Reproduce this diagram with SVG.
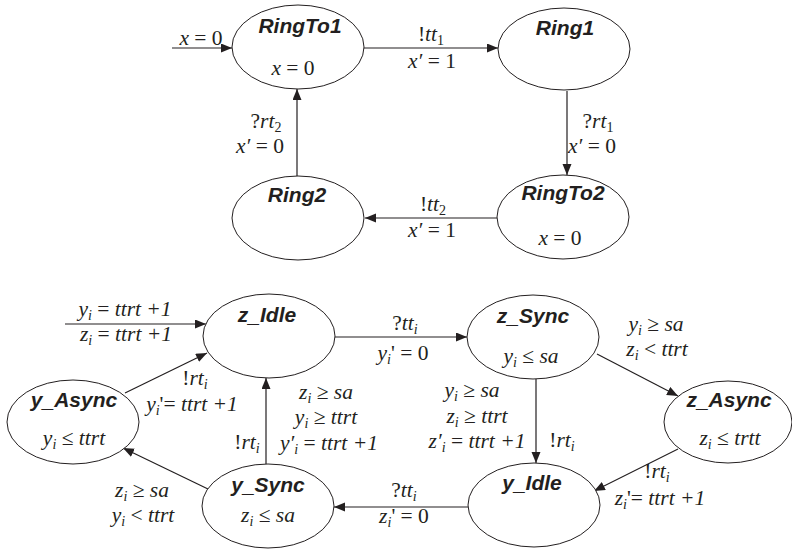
<svg xmlns="http://www.w3.org/2000/svg" width="792" height="549" viewBox="0 0 792 549">
<style>
.st{fill:#fff;stroke:#231f20;stroke-width:1}
.c{fill:none;stroke:#231f20;stroke-width:1.2}
.ar{marker-end:url(#ah)}
.m{font-family:"Liberation Serif","Times New Roman",serif;font-size:21.5px;font-style:italic;text-anchor:middle;fill:#231f20}
.u{font-style:normal}
.s{font-size:14px}
.n{font-family:"Liberation Sans",Arial,sans-serif;font-weight:bold;font-style:italic;font-size:21px;text-anchor:middle;fill:#231f20}
</style>
<defs>
<marker id="ah" markerUnits="userSpaceOnUse" markerWidth="12" markerHeight="10" refX="11" refY="4.5" orient="auto">
<path d="M0,0 L11,4.5 L0,9 z" fill="#231f20"/>
</marker>
</defs>
<rect width="792" height="549" fill="#fff"/>

<g id="connectors">
<path class="c ar" d="M172,48 L232,48"/>
<path class="c ar" d="M364,48 L498,48"/>
<path class="c ar" d="M567,91 L567,175"/>
<path class="c ar" d="M497,218 L365,218"/>
<path class="c ar" d="M297,176 L297,89"/>

<path class="c ar" d="M65,324 L206,324"/>
<path class="c ar" d="M335,337 L467,337"/>
<path class="c ar" d="M597,354 L678,396"/>
<path class="c ar" d="M536,379 L536,463"/>
<path class="c ar" d="M678,449 L594,491"/>
<path class="c ar" d="M468,507 L334,507"/>
<path class="c ar" d="M266,464 L266,378"/>
<path class="c ar" d="M208,489 L123,448"/>
<path class="c ar" d="M125,393 L207,353"/>
</g>

<g id="labels">
<text class="m" x="201" y="45">x <tspan class="u">= 0</tspan></text>
<text class="m" x="431" y="41"><tspan class="u">!</tspan>tt<tspan class="s u" dy="4">1</tspan></text>
<text class="m" x="432" y="68">x′ <tspan class="u">= 1</tspan></text>
<text class="m" x="598" y="128"><tspan class="u">?</tspan>rt<tspan class="s u" dy="4">1</tspan></text>
<text class="m" x="592" y="153">x′ <tspan class="u">= 0</tspan></text>
<text class="m" x="433" y="211"><tspan class="u">!</tspan>tt<tspan class="s u" dy="4">2</tspan></text>
<text class="m" x="432" y="237">x′ <tspan class="u">= 1</tspan></text>
<text class="m" x="266" y="128"><tspan class="u">?</tspan>rt<tspan class="s u" dy="4">2</tspan></text>
<text class="m" x="260" y="153">x′ <tspan class="u">= 0</tspan></text>

<text class="m" x="125" y="316">y<tspan class="s" dy="4">i</tspan><tspan dy="-4"> <tspan class="u">=</tspan> ttrt +1</tspan></text>
<text class="m" x="126" y="341">z<tspan class="s" dy="4">i</tspan><tspan dy="-4"> <tspan class="u">=</tspan> ttrt +1</tspan></text>
<text class="m" x="405" y="330"><tspan class="u">?</tspan>tt<tspan class="s" dy="4">i</tspan></text>
<text class="m" x="403" y="360">y<tspan class="s" dy="4">i</tspan><tspan dy="-4" class="u">' = 0</tspan></text>
<text class="m" x="656" y="331">y<tspan class="s" dy="4">i</tspan><tspan dy="-4" class="u"> ≥ </tspan>sa</text>
<text class="m" x="657" y="356">z<tspan class="s" dy="4">i</tspan><tspan dy="-4" class="u"> &lt; </tspan>ttrt</text>
<text class="m" x="472" y="397">y<tspan class="s" dy="4">i</tspan><tspan dy="-4" class="u"> ≥ </tspan>sa</text>
<text class="m" x="477" y="423">z<tspan class="s" dy="4">i</tspan><tspan dy="-4" class="u"> ≥ </tspan>ttrt</text>
<text class="m" x="477" y="448">z′<tspan class="s" dy="4">i</tspan><tspan dy="-4"> <tspan class="u">=</tspan> ttrt +1</tspan></text>
<text class="m" x="562" y="447"><tspan class="u">!</tspan>rt<tspan class="s" dy="4">i</tspan></text>
<text class="m" x="657" y="478"><tspan class="u">!</tspan>rt<tspan class="s" dy="4">i</tspan></text>
<text class="m" x="660" y="505">z<tspan class="s" dy="4">i</tspan><tspan dy="-4"><tspan class="u">'=</tspan> ttrt +1</tspan></text>
<text class="m" x="404" y="497"><tspan class="u">?</tspan>tt<tspan class="s" dy="4">i</tspan></text>
<text class="m" x="404" y="523">z<tspan class="s" dy="4">i</tspan><tspan dy="-4" class="u">' = 0</tspan></text>
<text class="m" x="247" y="449"><tspan class="u">!</tspan>rt<tspan class="s" dy="4">i</tspan></text>
<text class="m" x="326" y="399">z<tspan class="s" dy="4">i</tspan><tspan dy="-4" class="u"> ≥ </tspan>sa</text>
<text class="m" x="326" y="424">y<tspan class="s" dy="4">i</tspan><tspan dy="-4" class="u"> ≥ </tspan>ttrt</text>
<text class="m" x="329" y="450">y′<tspan class="s" dy="4">i</tspan><tspan dy="-4"> <tspan class="u">=</tspan> ttrt +1</tspan></text>
<text class="m" x="195" y="385"><tspan class="u">!</tspan>rt<tspan class="s" dy="4">i</tspan></text>
<text class="m" x="192" y="411">y<tspan class="s" dy="4">i</tspan><tspan dy="-4"><tspan class="u">'=</tspan> ttrt +1</tspan></text>
<text class="m" x="142" y="497">z<tspan class="s" dy="4">i</tspan><tspan dy="-4" class="u"> ≥ </tspan>sa</text>
<text class="m" x="143" y="522">y<tspan class="s" dy="4">i</tspan><tspan dy="-4" class="u"> &lt; </tspan>ttrt</text>
</g>

<g id="RingTo1"><ellipse class="st" cx="298" cy="47" rx="66" ry="42"/><text class="n" x="300" y="33">RingTo1</text><text class="m" x="293" y="75">x <tspan class="u">= 0</tspan></text></g>
<g id="Ring1"><ellipse class="st" cx="564" cy="49" rx="66" ry="41"/><text class="n" x="565" y="35">Ring1</text></g>
<g id="RingTo2"><ellipse class="st" cx="563" cy="217" rx="66" ry="42"/><text class="n" x="563" y="200">RingTo2</text><text class="m" x="560" y="245">x <tspan class="u">= 0</tspan></text></g>
<g id="Ring2"><ellipse class="st" cx="298" cy="218" rx="66" ry="42"/><text class="n" x="297" y="202">Ring2</text></g>

<g id="z_Idle"><ellipse class="st" cx="269" cy="336" rx="66" ry="42"/><text class="n" x="267" y="322">z_Idle</text></g>
<g id="z_Sync"><ellipse class="st" cx="533" cy="337" rx="66" ry="42"/><text class="n" x="533" y="323">z_Sync</text><text class="m" x="531" y="363">y<tspan class="s" dy="4">i</tspan><tspan dy="-4" class="u"> ≤ </tspan>sa</text></g>
<g id="z_Async"><ellipse class="st" cx="728" cy="422" rx="64" ry="41"/><text class="n" x="729" y="407">z_Async</text><text class="m" x="730" y="445">z<tspan class="s" dy="4">i</tspan><tspan dy="-4" class="u"> ≤ </tspan>trtt</text></g>
<g id="y_Idle"><ellipse class="st" cx="534" cy="505" rx="66" ry="42"/><text class="n" x="532" y="490">y_Idle</text></g>
<g id="y_Sync"><ellipse class="st" cx="268" cy="506" rx="66" ry="42"/><text class="n" x="268" y="492">y_Sync</text><text class="m" x="268" y="522">z<tspan class="s" dy="4">i</tspan><tspan dy="-4" class="u"> ≤ </tspan>sa</text></g>
<g id="y_Async"><ellipse class="st" cx="73" cy="422" rx="66" ry="42"/><text class="n" x="74" y="407">y_Async</text><text class="m" x="74" y="445">y<tspan class="s" dy="4">i</tspan><tspan dy="-4" class="u"> ≤ </tspan>ttrt</text></g>
</svg>
